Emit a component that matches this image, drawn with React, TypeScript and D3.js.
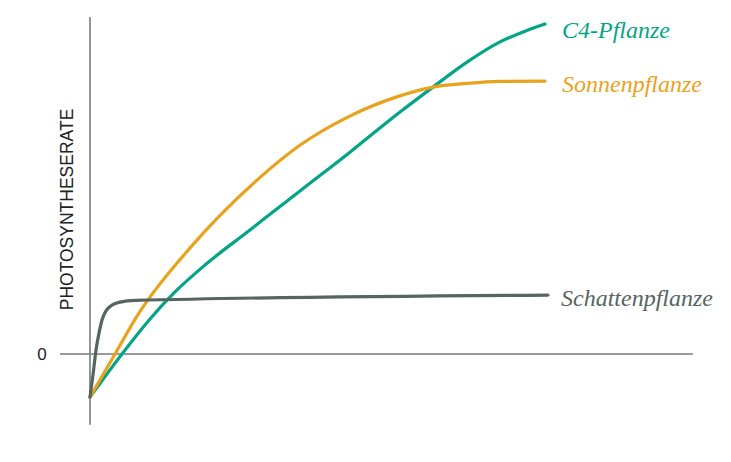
import React from "react";
import * as d3 from "d3";

const c4X = [0, 7.03, 13.19, 18.68, 25.27, 35.16, 46.15, 57.14, 68.13, 75.38, 82.86, 90.11, 95.6, 100];
const c4Y = [-1.28, 0, 1.04, 1.84, 2.64, 3.68, 4.84, 5.99, 7.18, 7.92, 8.66, 9.26, 9.58, 9.79];

const sunX = [0, 5.5, 10.5, 22.0, 36.7, 46.2, 57.1, 68.1, 75.4, 82.9, 90.1, 100];
const sunY = [-1.28, 0, 1.16, 3.15, 5.16, 6.2, 7.06, 7.66, 7.92, 8.03, 8.09, 8.1];

const shadeX = [0, 0.66, 1.32, 1.98, 2.64, 3.52, 4.84, 6.59, 9.89, 100.66];
const shadeY = [-1.28, -0.62, 0.12, 0.62, 1.01, 1.28, 1.45, 1.54, 1.59, 1.75];

const seriesNames = ["C4-Pflanze", "Sonnenpflanze", "Schattenpflanze"];
const seriesColors = ["#03a586", "#e9a21c", "#56655f"];
const yTickLabels = ["0"];
const yTitle = "PHOTOSYNTHESERATE";

export default function App() {
  const W = 731, H = 462;
  const x = d3.scaleLinear().domain([0, 100]).range([90, 545]);
  const y = d3.scaleLinear().domain([0, 10]).range([354, 17]);
  const line = d3.line<[number, number]>()
    .x(d => x(d[0])).y(d => y(d[1]))
    .curve(d3.curveMonotoneX);
  const series = [
    { xs: c4X, ys: c4Y },
    { xs: sunX, ys: sunY },
    { xs: shadeX, ys: shadeY },
  ];
  const labelPos = [
    { dx: 17, baseline: 38 },
    { dx: 17, baseline: 92 },
    { dx: 16, baseline: 306 },
  ];
  return (
    <svg width={W} height={H} style={{ position: "absolute", left: 0, top: 0 }}>
      <rect width={W} height={H} fill="#fff" />
      <line x1={x(0)} x2={x(0)} y1={y(10)} y2={y(-2.1)} stroke="#7a7a7a" strokeWidth={1.6} />
      <line x1={x(-6.6)} x2={x(132.5)} y1={y(0)} y2={y(0)} stroke="#7a7a7a" strokeWidth={1.6} />
      <text x={42} y={y(0) + 6} fontFamily="Liberation Sans, Arial, sans-serif" fontSize={17} textAnchor="middle" fill="#222">{yTickLabels[0]}</text>
      <text transform={`translate(73,${209.5}) rotate(-90)`} fontFamily="Liberation Sans, Arial, sans-serif" fontSize={17.5}
        textAnchor="middle" fill="#222">{yTitle}</text>
      {series.map((s, i) => (
        <path key={i} d={line(s.xs.map((v, j) => [v, s.ys[j]]) as [number, number][]) || ""}
          fill="none" stroke={seriesColors[i]} strokeWidth={3.2} strokeLinecap="round" strokeLinejoin="round" />
      ))}
      {seriesNames.map((n, i) => (
        <text key={n} x={x(100) + labelPos[i].dx} y={labelPos[i].baseline}
          fontFamily="Liberation Serif, Times New Roman, serif" fontStyle="italic" fontSize={24} fill={seriesColors[i]}>{n}</text>
      ))}
    </svg>
  );
}
